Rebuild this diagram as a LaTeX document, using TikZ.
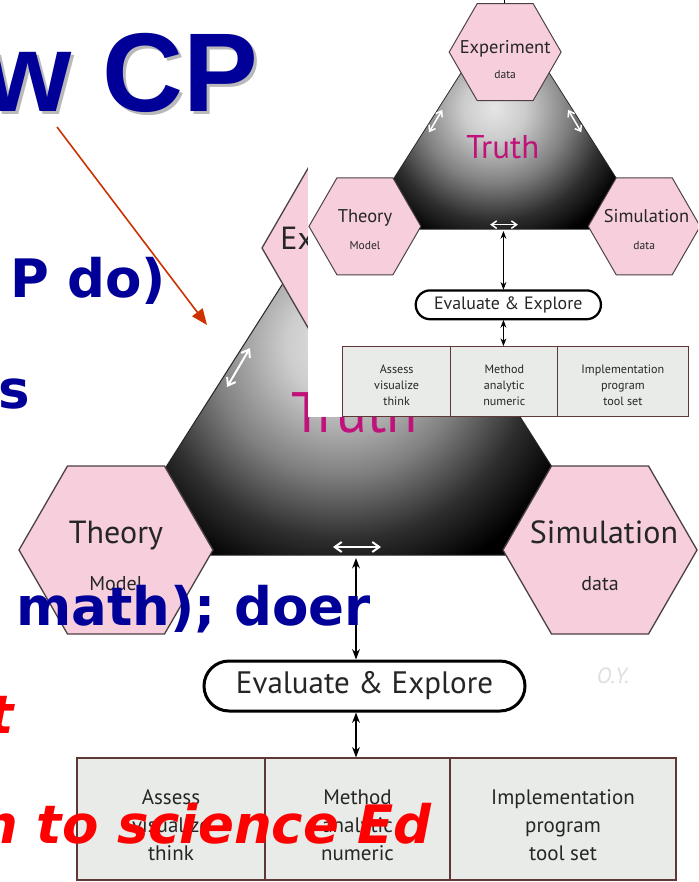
\documentclass[tikz,border=0pt]{standalone}
\usepackage{fontspec}
\setmainfont{PT Sans}
\newfontfamily\slidefont{DejaVu Sans}
\newfontfamily\titlefont{Liberation Sans}
\usetikzlibrary{shapes.geometric,shapes.misc,arrows.meta}
\definecolor{hexpink}{RGB}{246,206,220}
\definecolor{hexline}{RGB}{75,65,65}
\definecolor{truthmag}{RGB}{192,18,122}
\definecolor{cellfill}{RGB}{232,235,231}
\definecolor{cellline}{RGB}{95,55,55}
\definecolor{slideblue}{RGB}{0,0,153}
\definecolor{arrowred}{RGB}{204,51,0}
\definecolor{shadowgray}{RGB}{185,185,185}
\pgfdeclareradialshading{truthshade}{\pgfpoint{0bp}{0bp}}{color(0bp)=(black!10); color(5bp)=(black!20); color(12bp)=(black!50); color(18bp)=(black!82); color(23bp)=(black); color(50bp)=(black)}
\tikzset{
  hexnode/.style={regular polygon, regular polygon sides=6, minimum size=194pt, inner sep=0pt, fill=hexpink, draw=hexline},
  dtext/.style={inner sep=0pt, text=black!85},
  celltext/.style={inner sep=0pt, align=center, text=black!85, font=\fontsize{21}{28}\selectfont},
  slidetext/.style={inner sep=0pt, anchor=base west, font=\slidefont\bfseries\fontsize{53}{53}\selectfont, text=slideblue},
  redtext/.style={inner sep=0pt, font=\slidefont\bfseries\itshape\fontsize{53}{53}\selectfont, text=red},
}
\newcommand\sciencediagram[1]{%
  \begin{scope}
    \clip (359,164) -- (110,555) -- (608,555) -- cycle;
    \shade[shading=truthshade] (340,345) circle (270pt);
  \end{scope}
  \draw[line width=#1*1pt, black!85] (359,164) -- (110,555) -- (608,555) -- cycle;
  \coordinate (wa1) at (227,387); \coordinate (wa2) at (250,348);
  \coordinate (wb1) at (491,387); \coordinate (wb2) at (468,348);
  \coordinate (wc1) at (333,547); \coordinate (wc2) at (381,547);
  \draw[white, line width=#1*2pt, {Straight Barb[length=0pt 3.5,width=0pt 5]}-{Straight Barb[length=0pt 3.5,width=0pt 5]}] (wa1) -- (wa2);
  \draw[white, line width=#1*2pt, {Straight Barb[length=0pt 3.5,width=0pt 5]}-{Straight Barb[length=0pt 3.5,width=0pt 5]}] (wb1) -- (wb2);
  \draw[white, line width=#1*2pt, {Straight Barb[length=0pt 3.5,width=0pt 5]}-{Straight Barb[length=0pt 3.5,width=0pt 5]}] (wc1) -- (wc2);
  \node[dtext, anchor=base, text=truthmag, font=\fontsize{57}{57}\selectfont] (truth) at (355,432) {Truth};
  \node[hexnode, line width=#1*1.3pt] (exp) at (359,248) {};
  \coordinate (exptop) at (357,140);
  \draw[line width=#1*1.2pt] (exp.north -| exptop) -- (exptop);
  \node[hexnode, line width=#1*1.3pt] (thy) at (116,550) {};
  \node[hexnode, line width=#1*1.3pt] (sim) at (600,550) {};
  \node[dtext, anchor=base, font=\fontsize{32}{32}\selectfont] (expt) at (359,250) {Experiment};
  \node[dtext, anchor=base, font=\fontsize{20}{20}\selectfont] (expd) at (359,294) {data};
  \node[dtext, anchor=base, font=\fontsize{32}{32}\selectfont] (thyt) at (116,543) {Theory};
  \node[dtext, anchor=base, font=\fontsize{20}{20}\selectfont] (thyd) at (116,590) {Model};
  \node[dtext, anchor=base, font=\fontsize{32}{32}\selectfont] (simt) at (604,543) {Simulation};
  \node[dtext, anchor=base, font=\fontsize{20}{20}\selectfont] (simd) at (600,590) {data};
  \node[rounded rectangle, draw=black, fill=white, line width=#1*3pt, minimum width=321pt, minimum height=50pt, inner sep=0pt, font=\fontsize{31}{31}\selectfont, text=black!85] (ev) at (364.5,686) {Evaluate \& Explore};
  \node[draw=cellline, fill=cellfill, line width=#1*1.2pt, minimum width=188pt, minimum height=122pt, inner sep=0pt] (c1) at (171,819) {};
  \node[draw=cellline, fill=cellfill, line width=#1*1.2pt, minimum width=185pt, minimum height=122pt, inner sep=0pt] (c2) at (357.5,819) {};
  \node[draw=cellline, fill=cellfill, line width=#1*1.2pt, minimum width=226pt, minimum height=122pt, inner sep=0pt] (c3) at (563,819) {};
  \node[celltext] (t1) at (171,825) {Assess\\visualize\\think};
  \node[celltext] (t2) at (357.5,825) {Method\\analytic\\numeric};
  \node[celltext] (t3) at (563,825) {Implementation\\program\\tool set};
  \coordinate (tb) at (356,558);
  \draw[line width=#1*1.3pt, {Stealth[length=0pt 8,width=0pt 6]}-{Stealth[length=0pt 8,width=0pt 6]}] (tb) -- (tb |- ev.north);
  \draw[line width=#1*1.3pt, {Stealth[length=0pt 8,width=0pt 6]}-{Stealth[length=0pt 8,width=0pt 6]}] (ev.south -| tb) -- (tb |- c2.north);
}
\begin{document}
\begin{tikzpicture}[x=1pt, y=-1pt]
\useasboundingbox (0,0) rectangle (698,882);
\fill[white] (0,0) rectangle (698,882);
% large diagram
\sciencediagram{1}
% slide text
\node[inner sep=0pt, anchor=base west, font=\titlefont\bfseries\fontsize{112}{112}\selectfont, text=shadowgray] (titlesh) at (-13,115) {w CP};
\node[inner sep=0pt, anchor=base west, font=\titlefont\bfseries\fontsize{112}{112}\selectfont, text=slideblue] (title) at (-16,112) {w CP};
\node[slidetext] (l1) at (10,298) {P do)};
\node[slidetext] (l2) at (-2,408) {s};
\node[slidetext] (l3) at (16,625) {math); doer};
\node[redtext, anchor=base west] (r1) at (-12,733) {t};
\node[redtext, anchor=base east] (r2) at (432,843) {n to science Ed};
\coordinate (ar1) at (57,127);
\coordinate (ar2) at (207,325);
\draw[arrowred, line width=1.6pt, -{Triangle[length=16pt,width=13pt]}] (ar1) -- (ar2);
\node[inner sep=0pt, font=\itshape\fontsize{22}{22}\selectfont, text=black!13] (oy) at (613,676) {O.Y.};
% inset
\begin{scope}
  \clip (308,0) rectangle (698,417);
  \fill[white] (308,0) rectangle (698,417);
  \begin{scope}[shift={(298,-91)}, scale=0.577, transform shape, name prefix=s-]
    \sciencediagram{0.75}
  \end{scope}
\end{scope}
\end{tikzpicture}
\end{document}
